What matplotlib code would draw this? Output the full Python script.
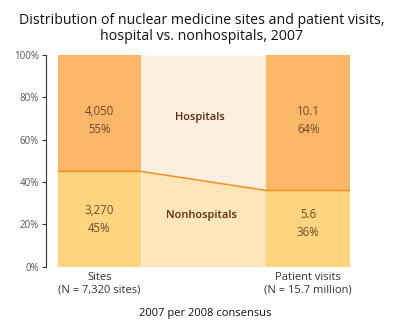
import matplotlib.pyplot as plt
import numpy as np

plt.rcParams['font.family'] = ['Open Sans', 'DejaVu Sans']

# data
groups = ['Sites\n(N = 7,320 sites)', 'Patient visits\n(N = 15.7 million)']
hosp_pct = [55, 64]
nonhosp_pct = [45, 36]
hosp_val = ['4,050', '10.1']
nonhosp_val = ['3,270', '5.6']

c_hosp = '#fbb768'
c_nonhosp = '#fed47e'
c_hosp_mid = '#fdeee0'
c_nonhosp_mid = '#fee6b8'
c_line = '#f4901e'
c_text = '#6b4a30'
c_label = '#5a2a0c'

fig = plt.figure(figsize=(4, 3.32), dpi=100)
ax = fig.add_axes([0.115, 0.197, 0.76, 0.637])

xpos = np.array([0, 2.5])
width = 1.0

# connecting band between the two bars
xm = [xpos[0] + width / 2, xpos[1] - width / 2]
ax.fill_between(xm, [nonhosp_pct[0], nonhosp_pct[1]], 100, color=c_hosp_mid, lw=0)
ax.fill_between(xm, 0, [nonhosp_pct[0], nonhosp_pct[1]], color=c_nonhosp_mid, lw=0)

ax.bar(xpos, nonhosp_pct, width, color=c_nonhosp, lw=0)
ax.bar(xpos, hosp_pct, width, bottom=nonhosp_pct, color=c_hosp, lw=0)

# boundary line
ax.plot([xpos[0] - width / 2, xm[0], xm[1], xpos[1] + width / 2],
        [nonhosp_pct[0], nonhosp_pct[0], nonhosp_pct[1], nonhosp_pct[1]],
        color=c_line, lw=1.1, solid_capstyle='butt')

hosp_y = [69, 69]
nonhosp_y = [22.5, 20.6]
for i, x in enumerate(xpos):
    ax.text(x, hosp_y[i], f'{hosp_val[i]}\n{hosp_pct[i]}%',
            ha='center', va='center', fontsize=8.3, color=c_text, linespacing=1.5)
    ax.text(x, nonhosp_y[i], f'{nonhosp_val[i]}\n{nonhosp_pct[i]}%',
            ha='center', va='center', fontsize=8.3, color=c_text, linespacing=1.5)

ax.text(1.2, 70.5, 'Hospitals', ha='center', va='center', fontsize=8,
        color=c_label, fontweight='semibold')
ax.text(1.22, 24, 'Nonhospitals', ha='center', va='center', fontsize=8,
        color=c_label, fontweight='semibold')

ax.set_xlim(-0.64, 3.0)
ax.set_ylim(0, 100)
ax.set_yticks(np.arange(0, 101, 20))
ax.set_yticklabels([f'{v}%' for v in range(0, 101, 20)])
ax.tick_params(axis='y', length=3, width=0.8, color='#333333', pad=2,
               labelsize=7, labelcolor='#555555')
ax.set_xticks(xpos)
ax.set_xticklabels(groups, linespacing=1.2)
ax.tick_params(axis='x', length=0, pad=4, labelsize=8, labelcolor='#333333')
for s in ['top', 'right', 'bottom']:
    ax.spines[s].set_visible(False)
ax.spines['left'].set_color('#333333')
ax.spines['left'].set_linewidth(0.8)

fig.text(0.505, 0.96, 'Distribution of nuclear medicine sites and patient visits,\nhospital vs. nonhospitals, 2007',
         ha='center', va='top', fontsize=10.2, color='#111111', linespacing=1.1)
fig.text(0.512, 0.055, '2007 per 2008 consensus', ha='center', va='center',
         fontsize=8, color='#111111')

fig.savefig('out.png', dpi=100)
